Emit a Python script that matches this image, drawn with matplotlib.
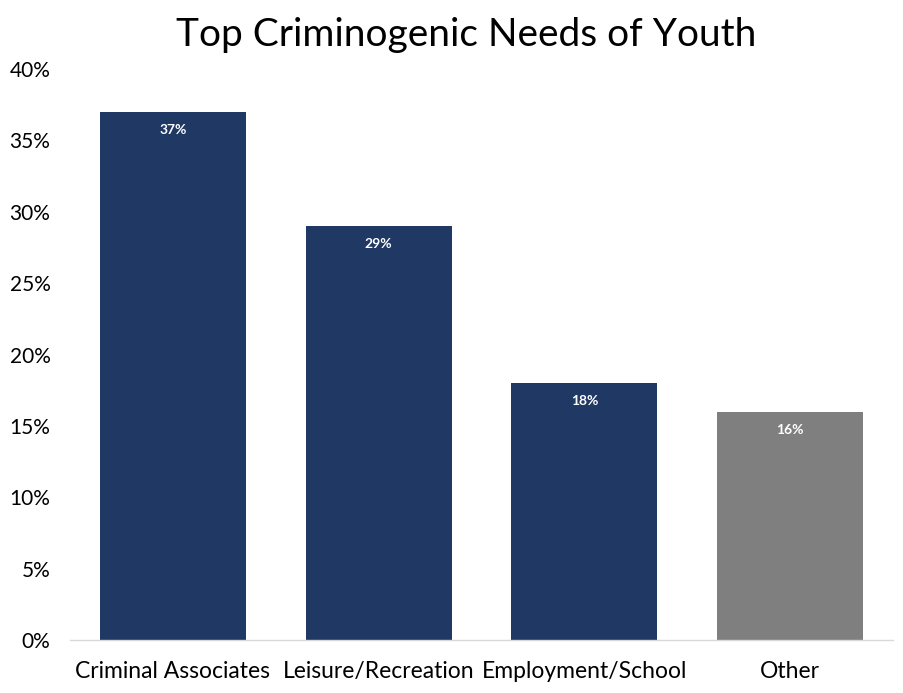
import matplotlib

matplotlib.use("Agg")

import matplotlib.pyplot as plt
from matplotlib.ticker import FuncFormatter, MultipleLocator

# Values
categories = ["Criminal Associates", "Leisure/Recreation", "Employment/School", "Other"]
shares = [37, 29, 18, 16]
bar_colors = ["#203864", "#203864", "#203864", "#7F7F7F"]

plt.rcParams["font.family"] = ["Lato", "DejaVu Sans"]

fig = plt.figure(figsize=(9.04, 6.93), dpi=100)
ax = fig.add_axes([0.0774, 0.0765, 0.9104, 0.8239])

x = range(len(categories))
bars = ax.bar(x, shares, width=0.71, color=bar_colors)

for bar, val in zip(bars, shares):
    ax.annotate(
        f"{val}%",
        (bar.get_x() + bar.get_width() / 2, bar.get_height()),
        xytext=(0, -13),
        textcoords="offset points",
        ha="center",
        va="center",
        color="white",
        fontsize=10,
        fontweight="bold",
    )

ax.set_xlim(-0.5, len(categories) - 0.5)
ax.set_ylim(0, 40)
ax.yaxis.set_major_locator(MultipleLocator(5))
ax.yaxis.set_major_formatter(FuncFormatter(lambda v, _: f"{v:.0f}%"))
ax.set_xticks(list(x))
ax.set_xticklabels(categories)
ax.tick_params(axis="both", length=0, colors="black")
ax.tick_params(axis="x", pad=15, labelsize=16.5)
ax.tick_params(axis="y", pad=14, labelsize=15)

for side in ["top", "right", "left"]:
    ax.spines[side].set_visible(False)
ax.spines["bottom"].set_color("#D9D9D9")
ax.spines["bottom"].set_linewidth(1)

fig.suptitle("Top Criminogenic Needs of Youth", fontsize=28, x=0.516, y=0.975)

fig.savefig("out.png", dpi=100)
